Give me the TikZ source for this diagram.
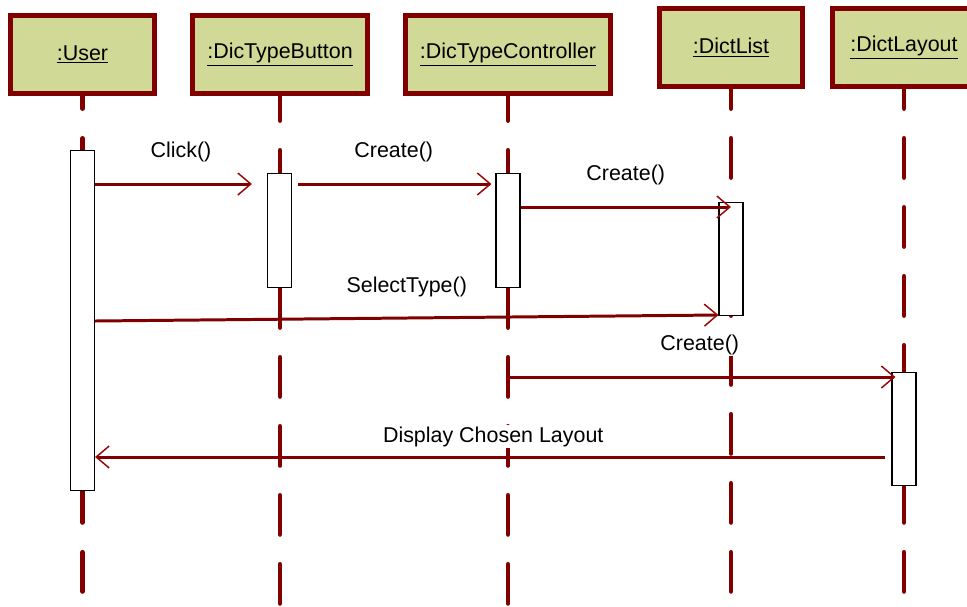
\documentclass[tikz,border=0pt]{standalone}
\usepackage{fontspec}
\setmainfont{Liberation Sans}
\usetikzlibrary{arrows.meta}
\definecolor{dred}{RGB}{128,0,0}
\definecolor{hred}{RGB}{150,10,10}
\definecolor{objfill}{RGB}{208,218,150}

\begin{document}
\begin{tikzpicture}[x=0.02cm,y=-0.02cm,
    font=\fontsize{12.2pt}{14pt}\selectfont,
    object/.style={draw=dred,line width=2.8pt,fill=objfill,inner sep=0pt,minimum height=1.56cm},
    lifeline/.style={draw=dred,line width=2.8pt,line cap=round,dash pattern=on 0.78cm off 0.6cm},
    actbar/.style={draw=black,line width=0.6pt,fill=white,anchor=north,inner sep=0pt,minimum width=0.48cm},
    message/.style={draw=dred,line width=1.7pt,-{Straight Barb[length=0.26cm,width=0.44cm,line width=0.85pt,color=hred]}},
    msglabel/.style={anchor=base,inner sep=1pt,fill=white}]
                \useasboundingbox (0,0) rectangle (967,606);

                % objects
                \node[object,minimum width=2.88cm] (user) at (82.5,54.5) {\raisebox{-2pt}{\underline{:User}}};
                \node[object,minimum width=3.5cm] (button) at (280,54.5) {\raisebox{-2pt}{\underline{:DicTypeButton}}};
                \node[object,minimum width=4.1cm] (ctrl) at (508,54.5) {\raisebox{-2pt}{\underline{:DicTypeController}}};
                \node[object,minimum width=2.86cm] (list) at (731,47.5) {\underline{:DictList}};
                \node[object,minimum width=2.86cm] (layout) at (904,47.5) {\underline{:DictLayout}};

                % lifelines
                \foreach \n/\ph in {user/0.53,button/0.29,ctrl/0.29,list/0.39,layout/0.39}
                    \draw[lifeline,dash phase=\ph cm] (\n.south) -- (\n.south |- 0,606);

                % activations
                \node[actbar,minimum height=6.8cm] (ubar) at (82.5,150) {};
                \node[actbar,minimum height=2.28cm] (bbar) at (279.5,173) {};
                \node[actbar,minimum height=2.28cm] (cbar) at (508,173) {};
                \node[actbar,minimum height=2.26cm] (lbar) at (731,202) {};
                \node[actbar,minimum height=2.26cm] (ybar) at (904,372) {};

                % messages
                \draw[message,shorten >=0.3cm] (ubar.east |- 0,184) -- (bbar.west |- 0,184)
                    node[msglabel,midway,yshift=0.54cm] (click) {Click()};
                \draw[message,shorten <=0.12cm,shorten >=0.08cm] (bbar.east |- 0,184) -- (cbar.west |- 0,184)
                    node[msglabel,midway,yshift=0.54cm] (create1) {Create()};
                \draw[message] (cbar.east |- 0,207) -- (lbar |- 0,207)
                    node[msglabel,midway,yshift=0.54cm] (create2) {Create()};
                \draw[message] (ubar.east |- 0,321) -- (lbar.west |- 0,315)
                    node[msglabel,midway,yshift=0.52cm] (select) {SelectType()};
                \draw[message,shorten >=-0.08cm] (cbar |- 0,377) -- (ybar.west |- 0,377)
                    node[msglabel,midway,yshift=0.54cm] (create3) {Create()};
                \draw[message,shorten <=0.12cm] (ybar.west |- 0,457) -- (ubar.east |- 0,457)
                    node[msglabel,midway,yshift=0.3cm] (display) {Display Chosen Layout};
            \end{tikzpicture}
\end{document}
